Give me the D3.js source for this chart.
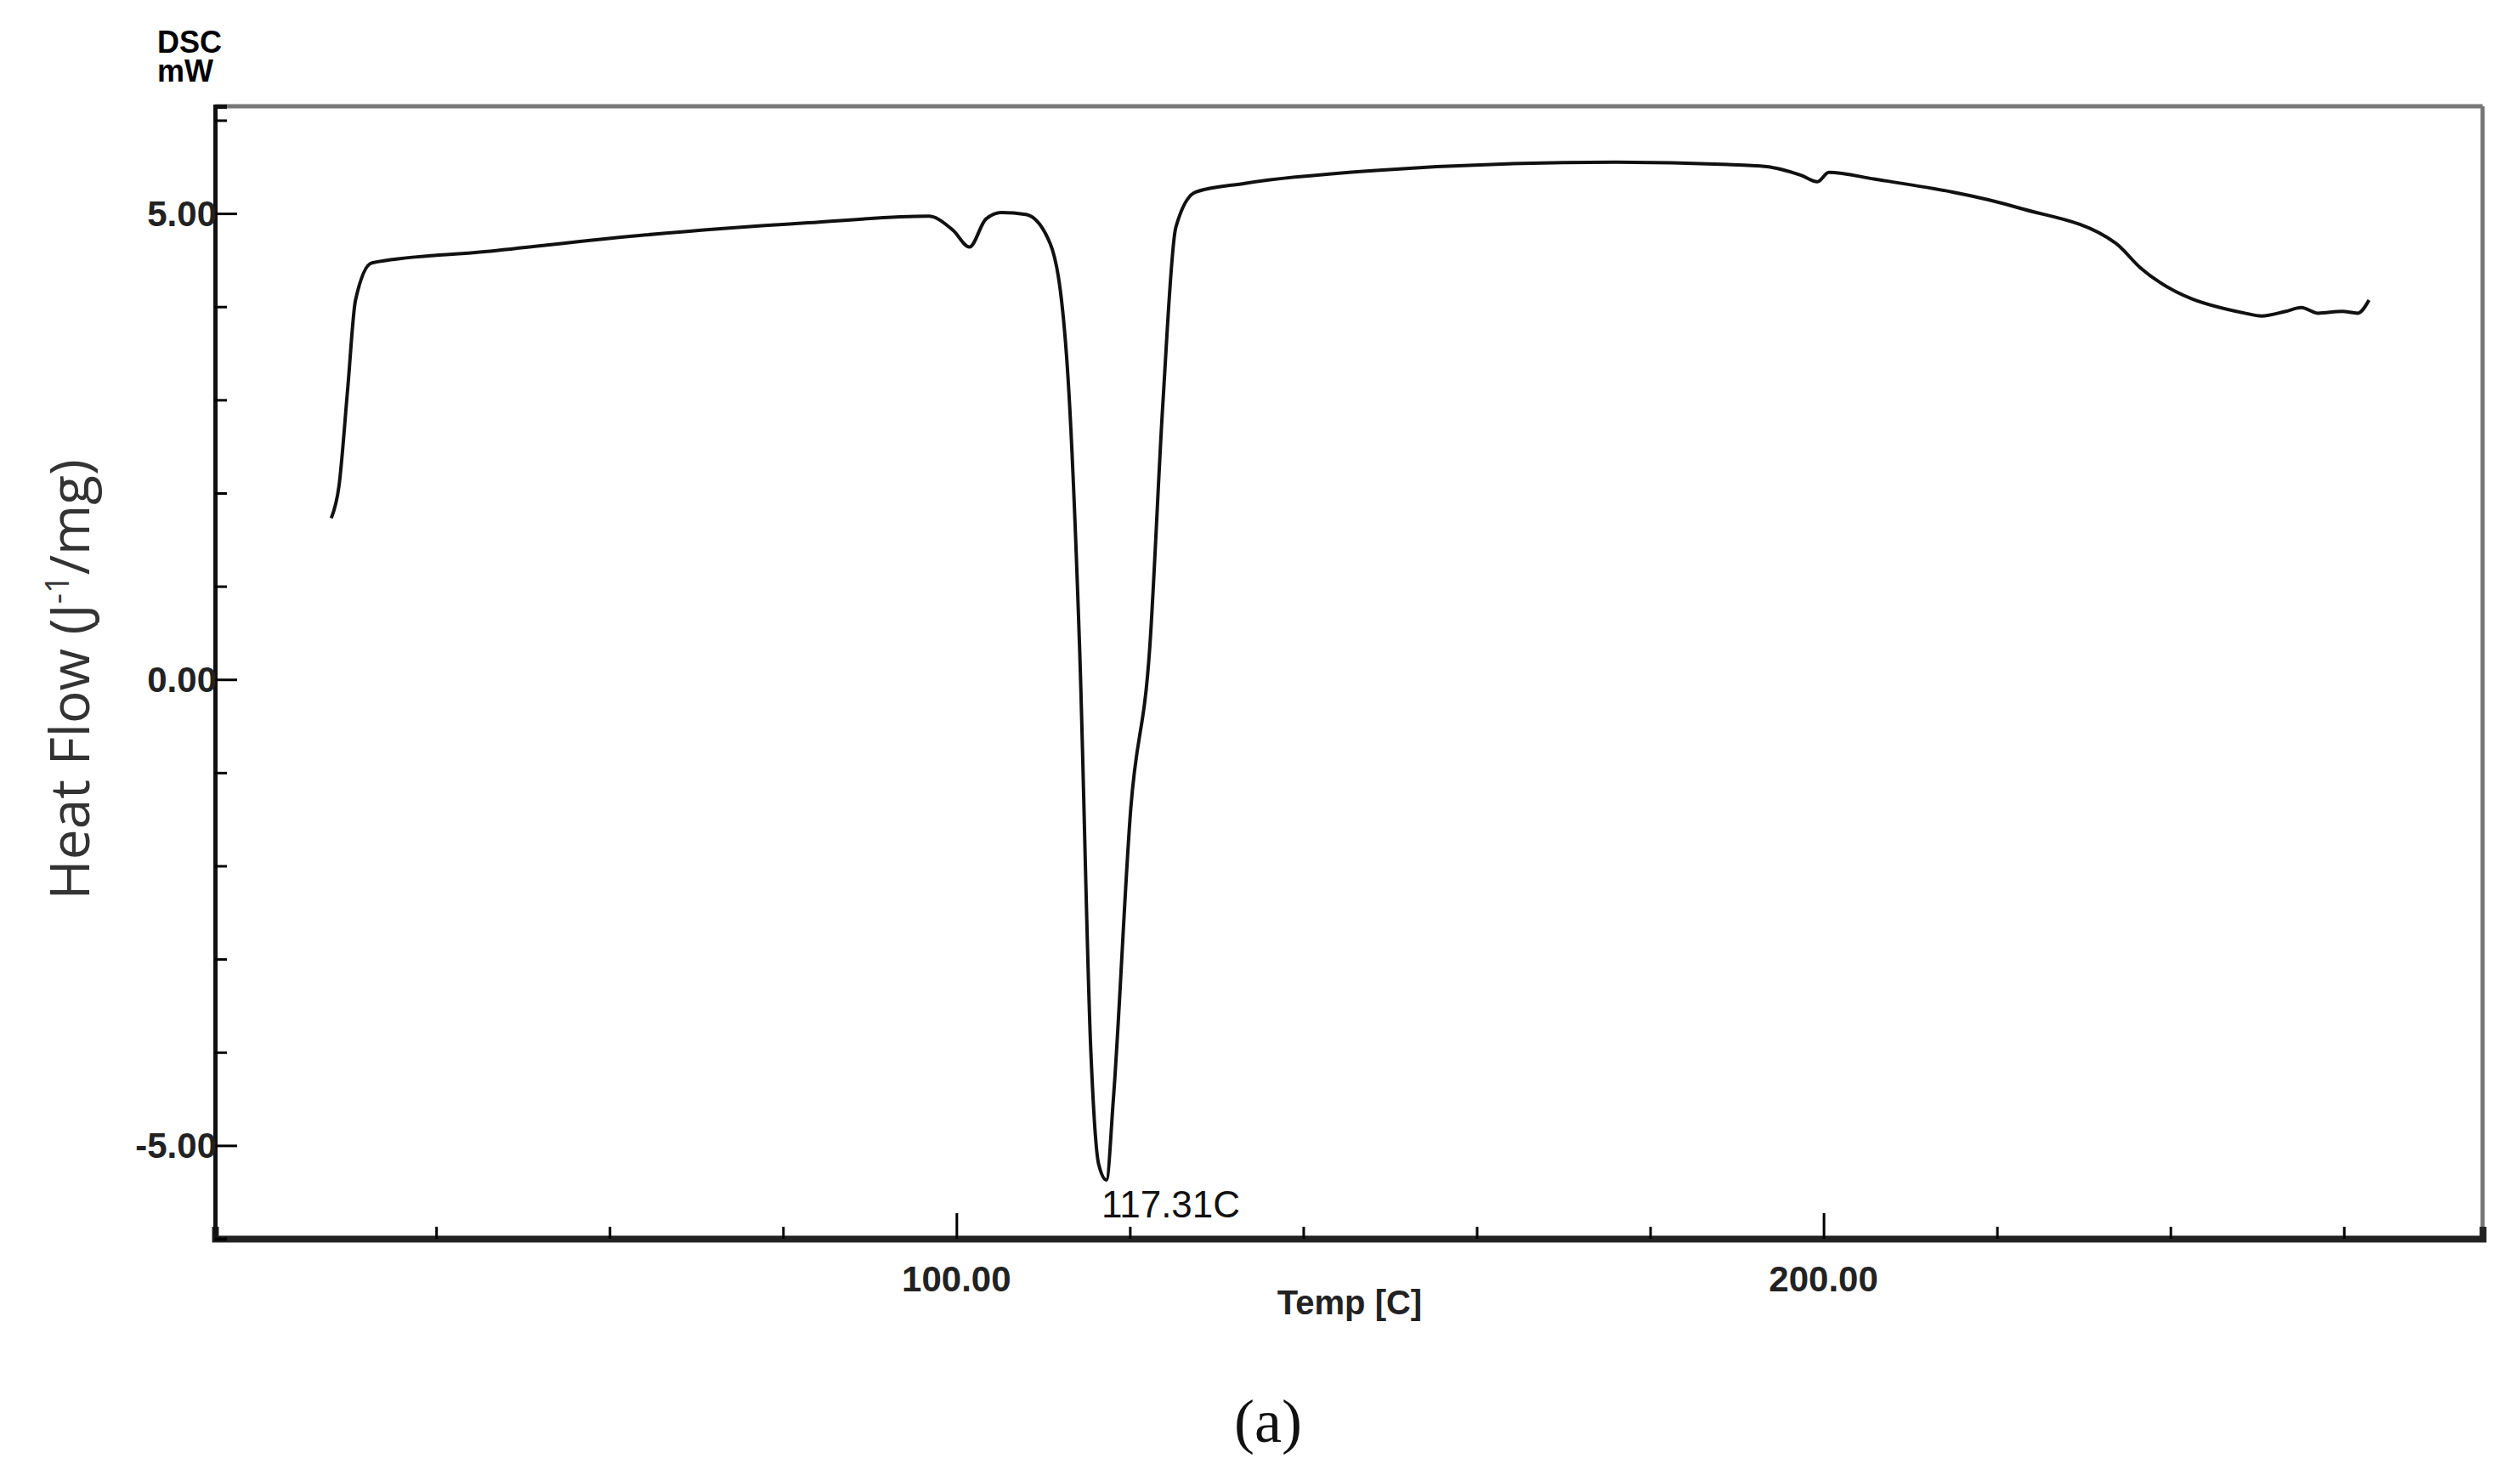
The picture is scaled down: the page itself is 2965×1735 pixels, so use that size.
<!DOCTYPE html>
<html><head><meta charset="utf-8">
<script src="https://cdn.jsdelivr.net/npm/d3@7"></script>
<style>body{margin:0;background:#fff}</style></head>
<body><svg id="c" width="2965" height="1735"></svg>
<script>
const temps = [27.9,28.8,29.8,30.7,32.6,45.6,64.2,82.9,96.8,99.6,101.5,103.4,105.2,108,110.8,112.7,114.2,115.5,116.4,117.3,118.1,120.1,122.3,123.8,125.3,127.6,133.1,148,176,192.7,197.4,199.3,200.6,205.8,222.5,233.7,236.5,248.6,250.5,253.3,255.1,257,259.8,261.6,262.9];
const heatFlow = [1.73,2.08,3.12,4.07,4.47,4.59,4.77,4.90,4.97,4.82,4.64,4.94,5.01,4.99,4.68,3.47,0.35,-3.99,-5.2,-5.37,-4.5,-1.39,0.35,2.95,4.85,5.23,5.32,5.46,5.55,5.51,5.41,5.34,5.44,5.37,5.06,4.68,4.42,3.93,3.90,3.95,3.99,3.93,3.95,3.93,4.07];
const yTickLabels = [-5, 0, 5];
const xTickLabels = [100, 200];
const peakLabel = "117.31C";

const svg = d3.select("#c");
const L=253, R=2921, T=125, B=1457;
const x = d3.scaleLinear().domain([14.5,276]).range([L,R]);
const y = d3.scaleLinear().domain([-6.0,6.15]).range([B,T]);

svg.append("line").attr("x1",L).attr("x2",R).attr("y1",T).attr("y2",T).attr("stroke","#777").attr("stroke-width",5);
svg.append("line").attr("x1",R).attr("x2",R).attr("y1",T).attr("y2",B).attr("stroke","#777").attr("stroke-width",5);

const xa = svg.append("g").attr("transform",`translate(0,${B})`)
  .call(d3.axisBottom(x).tickValues(d3.range(40,276,20)).tickSize(-14).tickFormat(""));
xa.selectAll("line").attr("stroke","#000").attr("stroke-width",3)
  .filter(d=>xTickLabels.includes(d)).attr("y2",-30);
xa.select(".domain").attr("stroke","#222").attr("stroke-width",8);
const narrow = "Liberation Sans Narrow, Arial Narrow, Liberation Sans";
xTickLabels.forEach(v=>{
  svg.append("text").attr("x",x(v)).attr("y",B+62).attr("text-anchor","middle")
   .attr("font-family",narrow).attr("font-weight","bold")
   .attr("font-size",42).attr("fill","#222").text(v.toFixed(2));
});

const ya = svg.append("g").attr("transform",`translate(${L},0)`)
  .call(d3.axisLeft(y).tickValues(d3.range(-6,7,1)).tickSize(-14).tickFormat(""));
ya.selectAll("line").attr("stroke","#000").attr("stroke-width",3)
  .filter(d=>yTickLabels.includes(d)).attr("x2",26);
ya.select(".domain").attr("stroke","#111").attr("stroke-width",5);
yTickLabels.forEach(v=>{
  svg.append("text").attr("x",L+2).attr("y",y(v)+15).attr("text-anchor","end")
   .attr("font-family",narrow).attr("font-weight","bold")
   .attr("font-size",42).attr("fill","#222").text(v.toFixed(2));
});

svg.append("path").datum(temps.map((t,i)=>[t,heatFlow[i]]))
  .attr("d",d3.line().x(d=>x(d[0])).y(d=>y(d[1])).curve(d3.curveMonotoneX))
  .attr("fill","none").attr("stroke","#111").attr("stroke-width",4);

svg.append("text").attr("x",1296).attr("y",1432).attr("font-family",narrow).attr("font-size",44).attr("fill","#111").text(peakLabel);
svg.append("text").attr("x",185).attr("y",62).attr("font-family",narrow).attr("font-weight","bold").attr("font-size",36).text("DSC");
svg.append("text").attr("x",185).attr("y",96).attr("font-family",narrow).attr("font-weight","bold").attr("font-size",36).text("mW");
svg.append("text").attr("x",1588).attr("y",1546).attr("text-anchor","middle").attr("font-family",narrow).attr("font-weight","bold").attr("font-size",40).attr("fill","#222").text("Temp  [C]");
const yt = svg.append("text").attr("transform",`translate(105,${y(0)}) rotate(-90)`).attr("text-anchor","middle")
  .attr("font-family","Open Sans, Noto Sans").attr("font-size",64).attr("fill","#333");
yt.append("tspan").text("Heat Flow (J");
yt.append("tspan").attr("font-size",38).attr("dy",-24).text("-1");
yt.append("tspan").attr("dy",24).text("/mg)");
svg.append("text").attr("x",1492).attr("y",1696).attr("text-anchor","middle").attr("font-family","Liberation Serif, DejaVu Serif").attr("font-size",72).attr("fill","#111").text("(a)");
</script></body></html>
